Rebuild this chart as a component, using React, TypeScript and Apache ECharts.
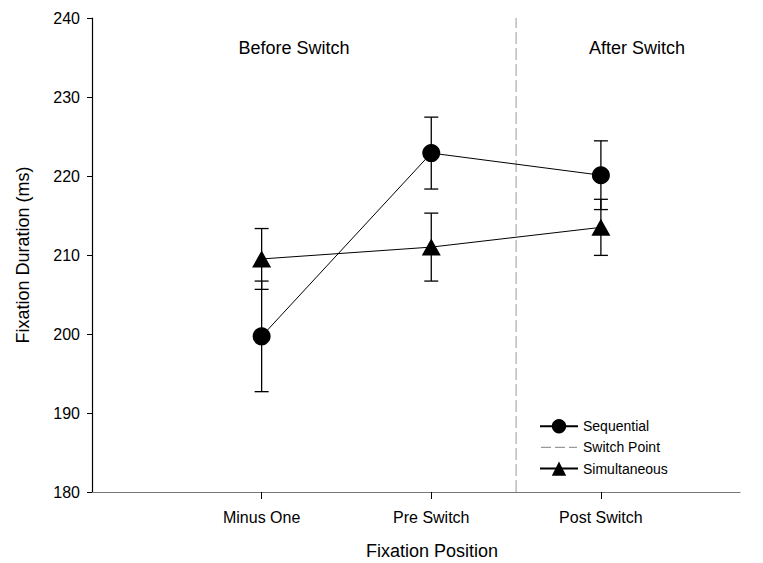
import React, { useEffect, useRef } from "react";
import * as echarts from "echarts";

// Fixation positions along the x axis (plotted at 1, 2, 3)
const positions = ["Minus One", "Pre Switch", "Post Switch"];

// Mean fixation durations (ms) and their error-bar half-widths
const sequentialMean = [199.7, 222.9, 220.1];
const sequentialErr = [7.0, 4.55, 4.35];
const simultaneousMean = [209.5, 211.0, 213.5];
const simultaneousErr = [3.85, 4.3, 3.55];

// Position of the switch between the two phases
const switchPoint = 2.5;

const yTicks = [180, 190, 200, 210, 220, 230, 240];

const FONT = "'Liberation Sans', Arial, sans-serif";

// Dashed legend key: the leading moves fix the icon's box to 36x18
const DASH_ICON =
  "path://M0,0M36,18M0,8.4h10v1.2h-10zM14,8.4h10v1.2h-10zM28,8.4h8v1.2h-8z";

const toPoints = (means: number[]) => means.map((v, i) => [i + 1, v]);
const toBars = (means: number[], errs: number[]) =>
  means.map((v, i) => [i + 1, v - errs[i], v + errs[i]]);

function renderErrorBar(params: any, api: any) {
  const x = api.value(0);
  const lo = api.coord([x, api.value(1)]);
  const hi = api.coord([x, api.value(2)]);
  const half = 7;
  const style = { stroke: "#000", lineWidth: 1.3 };
  return {
    type: "group",
    children: [
      { type: "line", shape: { x1: lo[0], y1: lo[1], x2: hi[0], y2: hi[1] }, style },
      { type: "line", shape: { x1: lo[0] - half, y1: lo[1], x2: lo[0] + half, y2: lo[1] }, style },
      { type: "line", shape: { x1: hi[0] - half, y1: hi[1], x2: hi[0] + half, y2: hi[1] }, style },
    ],
  };
}

export default function App() {
  const ref = useRef<HTMLDivElement>(null);

  useEffect(() => {
    if (!ref.current) return;
    const chart = echarts.init(ref.current, null, { renderer: "svg" });

    chart.setOption({
      animation: false,
      textStyle: { fontFamily: FONT, color: "#000" },
      grid: { left: 92, top: 18, right: 23, bottom: 71 },
      legend: {
        orient: "vertical",
        left: 534,
        top: 414,
        itemWidth: 38,
        itemHeight: 18,
        itemGap: 5,
        textStyle: { fontFamily: FONT, fontSize: 14, color: "#000" },
        data: [
          { name: "Sequential" },
          { name: "Switch Point", icon: DASH_ICON, itemStyle: { color: "#999" } },
          { name: "Simultaneous" },
        ],
      },
      xAxis: {
        type: "value",
        min: 0,
        max: 3.82,
        interval: 1,
        splitLine: { show: false },
        axisLine: { lineStyle: { color: "#777", width: 1.2 } },
        axisTick: {
          customValues: [1, 2, 3],
          length: 7,
          lineStyle: { color: "#000" },
        },
        axisLabel: {
          customValues: [1, 2, 3],
          formatter: (v: number) => positions[Math.round(v) - 1] ?? "",
          fontFamily: FONT,
          fontSize: 16,
          color: "#000",
          margin: 17,
        },
      },
      yAxis: {
        type: "value",
        min: yTicks[0],
        max: yTicks[yTicks.length - 1],
        interval: 10,
        name: "Fixation Duration (ms)",
        nameLocation: "middle",
        nameGap: 60,
        nameTextStyle: { fontFamily: FONT, fontSize: 18, color: "#000" },
        splitLine: { show: false },
        axisLine: { lineStyle: { color: "#000", width: 1.2 } },
        axisTick: { length: 5, lineStyle: { color: "#000" } },
        axisLabel: { fontFamily: FONT, fontSize: 16, color: "#000", margin: 12 },
      },
      graphic: [
        {
          type: "text",
          style: {
            text: "Fixation Position",
            x: 432,
            y: 551,
            align: "center",
            verticalAlign: "middle",
            font: `18px ${FONT}`,
            fill: "#000",
          },
        },
        {
          type: "text",
          style: {
            text: "Before Switch",
            x: 294,
            y: 48,
            align: "center",
            verticalAlign: "middle",
            font: `18px ${FONT}`,
            fill: "#000",
          },
        },
        {
          type: "text",
          style: {
            text: "After Switch",
            x: 637,
            y: 48,
            align: "center",
            verticalAlign: "middle",
            font: `18px ${FONT}`,
            fill: "#000",
          },
        },
      ],
      series: [
        {
          name: "Switch Point",
          type: "line",
          symbol: "none",
          data: [
            [switchPoint, yTicks[0]],
            [switchPoint, yTicks[yTicks.length - 1]],
          ],
          lineStyle: { color: "#999", width: 1, type: [12, 4] },
          itemStyle: { color: "#999" },
          z: 1,
        },
        {
          name: "Sequential error",
          type: "custom",
          renderItem: renderErrorBar,
          data: toBars(sequentialMean, sequentialErr),
          z: 2,
        },
        {
          name: "Simultaneous error",
          type: "custom",
          renderItem: renderErrorBar,
          data: toBars(simultaneousMean, simultaneousErr),
          z: 2,
        },
        {
          name: "Sequential",
          type: "line",
          data: toPoints(sequentialMean),
          symbol: "circle",
          symbolSize: 18,
          lineStyle: { color: "#000", width: 1 },
          itemStyle: { color: "#000" },
          z: 3,
        },
        {
          name: "Simultaneous",
          type: "line",
          data: toPoints(simultaneousMean),
          symbol: "triangle",
          symbolSize: [19, 17],
          lineStyle: { color: "#000", width: 1 },
          itemStyle: { color: "#000" },
          z: 3,
        },
      ],
    });

    return () => chart.dispose();
  }, []);

  return <div ref={ref} style={{ width: 763, height: 563, position: "absolute", left: 0, top: 0 }} />;
}
